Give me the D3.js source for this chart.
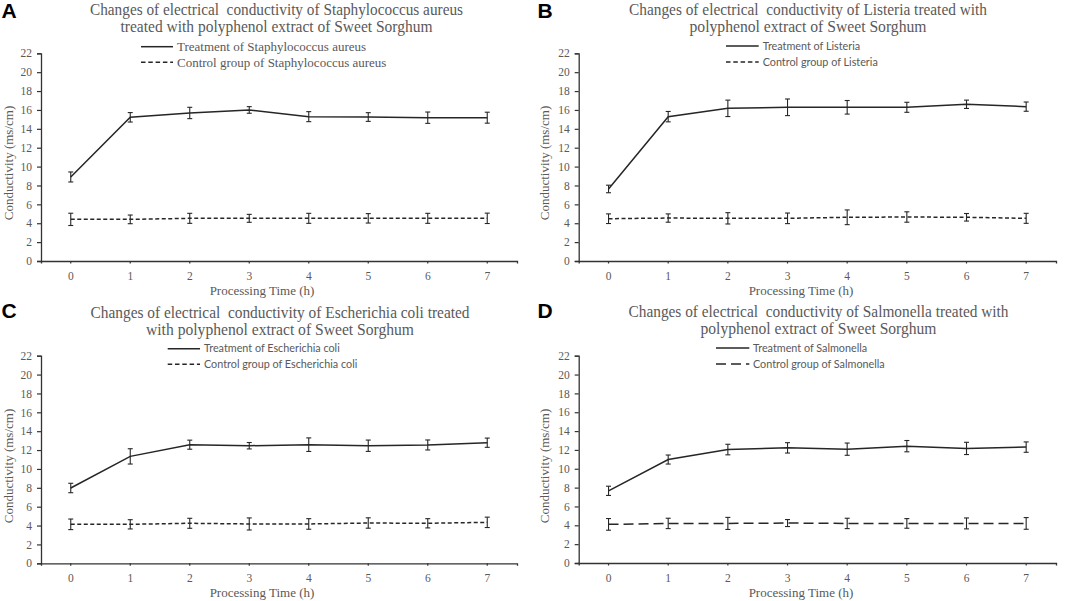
<!DOCTYPE html>
<html><head><meta charset="utf-8">
<script src="https://cdn.jsdelivr.net/npm/d3@7"></script>
<style>body{margin:0;background:#fff}svg{display:block}</style>
</head><body>
<svg id="c" width="1072" height="601"></svg>
<script>
const hours = ["0","1","2","3","4","5","6","7"];
const yTicks = [0,2,4,6,8,10,12,14,16,18,20,22];

const staphTreat   = [8.9, 15.22, 15.68, 16.0, 15.29, 15.25, 15.18, 15.18];
const staphTreatErr= [0.53, 0.5, 0.6, 0.35, 0.53, 0.46, 0.6, 0.58];
const staphCtrl    = [4.41, 4.41, 4.52, 4.52, 4.52, 4.52, 4.52, 4.52];
const staphCtrlErr = [0.65, 0.46, 0.53, 0.42, 0.53, 0.5, 0.53, 0.55];

const listTreat    = [7.63, 15.29, 16.17, 16.28, 16.28, 16.28, 16.6, 16.35];
const listTreatErr = [0.4, 0.55, 0.87, 0.88, 0.72, 0.53, 0.44, 0.49];
const listCtrl     = [4.48, 4.55, 4.52, 4.52, 4.63, 4.66, 4.63, 4.52];
const listCtrlErr  = [0.51, 0.44, 0.6, 0.56, 0.78, 0.55, 0.4, 0.53];

const ecoliTreat   = [7.98, 11.33, 12.57, 12.46, 12.57, 12.46, 12.54, 12.78];
const ecoliTreatErr= [0.5, 0.81, 0.48, 0.34, 0.72, 0.6, 0.53, 0.49];
const ecoliCtrl    = [4.13, 4.13, 4.24, 4.17, 4.17, 4.27, 4.24, 4.34];
const ecoliCtrlErr = [0.56, 0.49, 0.53, 0.64, 0.56, 0.55, 0.49, 0.55];

const salTreat     = [7.66, 10.98, 12.04, 12.22, 12.08, 12.4, 12.16, 12.3];
const salTreatErr  = [0.49, 0.48, 0.56, 0.55, 0.65, 0.6, 0.65, 0.55];
const salCtrl      = [4.1, 4.2, 4.2, 4.24, 4.2, 4.2, 4.2, 4.2];
const salCtrlErr   = [0.62, 0.55, 0.64, 0.37, 0.55, 0.51, 0.58, 0.62];

const panelLetters = ["A","B","C","D"];
const titles = [
  ["Changes of electrical  conductivity of Staphylococcus aureus","treated with polyphenol extract of Sweet Sorghum"],
  ["Changes of electrical  conductivity of Listeria treated with","polyphenol extract of Sweet Sorghum"],
  ["Changes of electrical  conductivity of Escherichia coli treated","with polyphenol extract of Sweet Sorghum"],
  ["Changes of electrical  conductivity of Salmonella treated with","polyphenol extract of Sweet Sorghum"]
];
const legendTreat = ["Treatment of Staphylococcus aureus","Treatment of Listeria","Treatment of Escherichia coli","Treatment of Salmonella"];
const legendCtrl  = ["Control group of Staphylococcus aureus","Control group of Listeria","Control group of Escherichia coli","Control group of Salmonella"];
const xTitle = "Processing Time (h)";
const yTitle = "Conductivity (ms/cm)";

const seriesSets = [
  [staphTreat, staphTreatErr, staphCtrl, staphCtrlErr],
  [listTreat, listTreatErr, listCtrl, listCtrlErr],
  [ecoliTreat, ecoliTreatErr, ecoliCtrl, ecoliCtrlErr],
  [salTreat, salTreatErr, salCtrl, salCtrlErr]
];

// layout (pixel geometry)
const layout = [
  {ox:0,   oy:0,   x0:41,   x1:517,  y0:261,   y1:53.3,  tc:276.5, t1:15, t2:32.4, tw:[373,312], lx1:141, lx2:173, ltx:177, ly1:46.7, ly2:62.3, lfont:"Liberation Serif", lsize:13, dash:"4.5,2.8", pdash:"4,2.5", lcy:163, xl:262, xly:295},
  {ox:536, oy:0,   x0:578.7,x1:1056, y0:261,   y1:53.3,  tc:808,   t1:15, t2:32.4, tw:[358,237], lx1:726, lx2:758.7, ltx:762.7, ly1:46, ly2:62, lfont:"Lato", lsize:10.8, dash:"4.5,2.8", pdash:"4,2.5", lcy:163, xl:801, xly:295},
  {ox:0,   oy:300, x0:41,   x1:517,  y0:563.3, y1:355.7, tc:280,   t1:317.7, t2:335.2, tw:[379,268], lx1:167.7, lx2:200, ltx:204, ly1:348.7, ly2:364.3, lfont:"Lato", lsize:10.8, dash:"4.5,2.8", pdash:"4,2.5", lcy:466, xl:262, xly:597},
  {ox:536, oy:300, x0:578.7,x1:1056, y0:563,   y1:355.7, tc:818.5, t1:316.7, t2:334.2, tw:[380,236], lx1:716, lx2:749.3, ltx:753, ly1:348, ly2:364, lfont:"Lato", lsize:10.8, dash:"10,5", pdash:"10,5", lcy:466, xl:801, xly:597}
];

const svg = d3.select("#c");
const grey = "#595959";
const lineCol = "#262626";
const axisCol = "#333";

layout.forEach((L, i) => {
  const g = svg.append("g");
  const x = d3.scaleBand().domain(hours).range([L.x0, L.x1]);
  const y = d3.scaleLinear().domain([0, 22]).range([L.y0, L.y1]);

  // panel letter
  g.append("text").attr("x", L.ox + 1.5).attr("y", L.oy + 17.5)
    .attr("font-family","Liberation Sans, Arial").attr("font-weight","bold")
    .attr("font-size", 21).attr("fill","#000").text(panelLetters[i]);

  // title
  const tt = g.append("text").attr("text-anchor","middle")
    .attr("font-family","Liberation Serif").attr("font-size",17).attr("fill",grey)
    .style("white-space","pre");
  tt.append("tspan").attr("x", L.tc).attr("y", L.t1)
    .attr("textLength", L.tw[0]).attr("lengthAdjust","spacingAndGlyphs").text(titles[i][0]);
  tt.append("tspan").attr("x", L.tc).attr("y", L.t2)
    .attr("textLength", L.tw[1]).attr("lengthAdjust","spacingAndGlyphs").text(titles[i][1]);

  // axes
  const yAxis = d3.axisLeft(y).tickValues(yTicks).tickSize(4).tickPadding(5);
  const ya = g.append("g").attr("transform", `translate(${L.x0},0)`).call(yAxis);
  ya.select(".domain").attr("stroke", axisCol).attr("stroke-width", 1.3);
  ya.selectAll(".tick line").attr("stroke", axisCol).attr("stroke-width", 1.2);
  ya.selectAll("text").attr("font-family","Liberation Serif").attr("font-size",11.5).attr("fill",grey);

  const xAxis = d3.axisBottom(x).tickSize(2.5).tickPadding(8);
  const xa = g.append("g").attr("transform", `translate(0,${L.y0})`).call(xAxis);
  xa.select(".domain").attr("stroke", axisCol).attr("stroke-width", 1.3);
  xa.selectAll(".tick line").attr("stroke", axisCol).attr("stroke-width", 1.2);
  xa.selectAll("text").attr("font-family","Liberation Serif").attr("font-size",11.5).attr("fill",grey);

  // axis titles
  g.append("text").attr("x", L.xl).attr("y", L.xly).attr("text-anchor","middle")
    .attr("font-family","Liberation Serif").attr("font-size",13).attr("fill",grey).text(xTitle);
  g.append("text").attr("transform", `translate(${L.ox + 12.5},${L.lcy}) rotate(-90)`)
    .attr("text-anchor","middle").attr("font-family","Liberation Serif").attr("font-size",13)
    .attr("fill",grey).text(yTitle);

  const [tv, te, cv, ce] = seriesSets[i];
  const cx = h => x(h) + x.bandwidth()/2;
  const line = d3.line().x((d,j) => cx(hours[j])).y(d => y(d));

  [[tv, te, null], [cv, ce, L.pdash]].forEach(([vals, errs, dash]) => {
    g.append("path").datum(vals).attr("d", line).attr("fill","none")
      .attr("stroke", lineCol).attr("stroke-width", 1.5)
      .attr("stroke-dasharray", dash);
    const eb = g.append("g").attr("stroke", lineCol).attr("stroke-width", 1.1);
    vals.forEach((v, j) => {
      const px = cx(hours[j]);
      const top = y(v + errs[j]), bot = y(v - errs[j]);
      eb.append("line").attr("x1", px).attr("x2", px).attr("y1", top).attr("y2", bot);
      eb.append("line").attr("x1", px-2.5).attr("x2", px+2.5).attr("y1", top).attr("y2", top);
      eb.append("line").attr("x1", px-2.5).attr("x2", px+2.5).attr("y1", bot).attr("y2", bot);
    });
  });

  // legend
  [[L.ly1, null, legendTreat[i]], [L.ly2, L.dash, legendCtrl[i]]].forEach(([ly, dash, label]) => {
    g.append("line").attr("x1", L.lx1).attr("x2", L.lx2).attr("y1", ly).attr("y2", ly)
      .attr("stroke", lineCol).attr("stroke-width", 1.5).attr("stroke-dasharray", dash);
    g.append("text").attr("x", L.ltx).attr("y", ly).attr("dy","0.35em")
      .attr("font-family", L.lfont).attr("font-size", L.lsize).attr("fill", grey).text(label);
  });
});
</script>
</body></html>
